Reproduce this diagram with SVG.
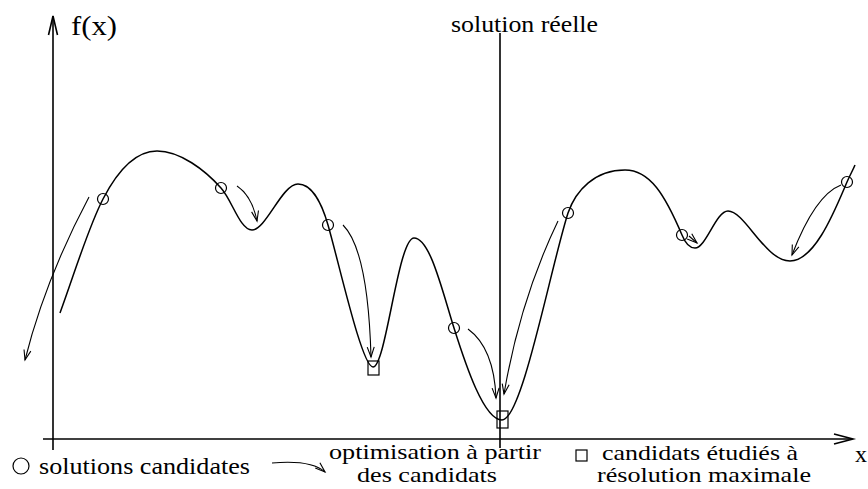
<svg xmlns="http://www.w3.org/2000/svg" width="868" height="489" viewBox="0 0 868 489">
<style>
.ax{fill:none;stroke:#000;stroke-width:1.6}
.cv{fill:none;stroke:#000;stroke-width:1.5}
.ar{fill:none;stroke:#000;stroke-width:1.1;marker-end:url(#ah)}
.pt{fill:none;stroke:#000;stroke-width:1.2}
text{font-family:"Liberation Serif","DejaVu Serif","Times New Roman",serif;font-size:24px;fill:#000}
.lg{font-size:21px}
</style>
<defs>
<marker id="ah" markerUnits="userSpaceOnUse" markerWidth="14" markerHeight="10" viewBox="-11 -5 12 10" refX="0" refY="0" orient="auto">
<path d="M-10,-3.5 L0,0 L-10,3.5" fill="none" stroke="#000" stroke-width="1.1"/>
</marker>
</defs>
<rect width="868" height="489" fill="#fff"/>
<g id="axes">
<line class="ax" x1="53" y1="16" x2="53" y2="450"/>
<polyline class="ax" points="48.5,35 53,16 57.5,35" stroke-width="1.2"/>
<line class="ax" x1="43" y1="439" x2="852" y2="439"/>
<polyline class="ax" points="834,434 853,439 834,444" stroke-width="1.2"/>
<text x="71" y="35" style="font-size:28px" textLength="46" lengthAdjust="spacingAndGlyphs">f(x)</text>
<text x="855" y="462">x</text>
</g>
<g id="solution-line">
<line class="ax" x1="500" y1="33" x2="500" y2="448" stroke-width="1.3"/>
<text x="451" y="32" textLength="147" lengthAdjust="spacingAndGlyphs">solution réelle</text>
</g>
<g id="curve">
<path class="cv" d="M60,313 C75,272 88,228 103,199 C118,170 135,151 157,151 C180,151 205,170 221,188 C232,200 240,230 252,230 C266,230 282,184 298,184 C312,184 322,204 328,225 C340,267 362,367 373,367 C386,367 398,238 414,238 C430,238 442,290 454,328 C466,366 484,420 502,420 C522,420 550,270 568,213 C576,190 595,170 625,170 C650,170 665,195 682,235 C686,245 690,248 695,248 C706,248 716,211 728,211 C745,211 765,261 790,261 C815,261 835,210 847,182 C850,175 853,170 855,165"/>
</g>
<g id="candidates">
<circle class="pt" cx="103" cy="199" r="5.5"/>
<circle class="pt" cx="221" cy="188" r="5.5"/>
<circle class="pt" cx="328" cy="225" r="5.5"/>
<circle class="pt" cx="454" cy="328" r="5.5"/>
<circle class="pt" cx="568" cy="213" r="5.5"/>
<circle class="pt" cx="682" cy="235" r="5.5"/>
<circle class="pt" cx="847" cy="182" r="5.5"/>
</g>
<g id="maxres">
<rect class="pt" x="368" y="361" width="11" height="14"/>
<rect class="pt" x="497" y="411" width="11" height="17"/>
</g>
<g id="connectors">
<path class="ar" d="M89,197 Q45,280 25,360"/>
<path class="ar" d="M237,186 Q252,196 257,221"/>
<path class="ar" d="M343,225 Q368,250 371,357"/>
<path class="ar" d="M468,329 Q494,348 496,398"/>
<path class="ar" d="M558,221 Q520,300 504,394"/>
<path class="ar" d="M689,236 L697,243"/>
<path class="ar" d="M841,185 Q815,195 792,255"/>
</g>
<g id="legend">
<circle class="pt" cx="21" cy="466" r="8"/>
<text x="39" y="474" textLength="211" lengthAdjust="spacingAndGlyphs">solutions candidates</text>
<path class="ar" d="M272,463 C295,461 315,463 325,472"/>
<text class="lg" x="329" y="459" textLength="212" lengthAdjust="spacingAndGlyphs">optimisation à partir</text>
<text class="lg" x="357" y="482" textLength="140" lengthAdjust="spacingAndGlyphs">des candidats</text>
<rect class="pt" x="576" y="450" width="11" height="11"/>
<text class="lg" x="602" y="460" textLength="196" lengthAdjust="spacingAndGlyphs">candidats étudiés à</text>
<text class="lg" x="597" y="482" textLength="214" lengthAdjust="spacingAndGlyphs">résolution maximale</text>
</g>
</svg>
